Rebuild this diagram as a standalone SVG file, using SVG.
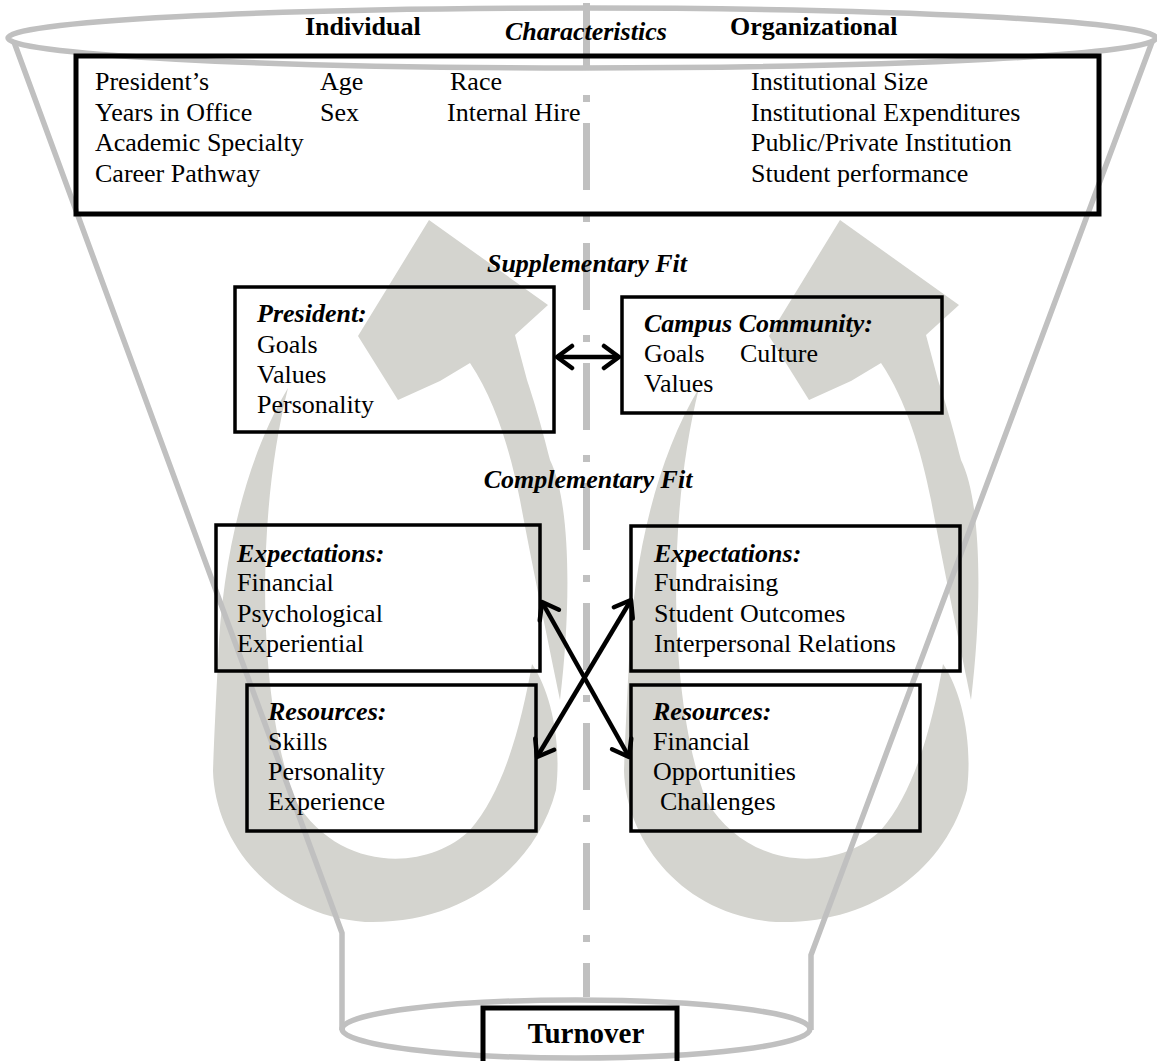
<svg xmlns="http://www.w3.org/2000/svg" width="1157" height="1061" viewBox="0 0 1157 1061">
<style>
text{font-family:"Liberation Serif","Times New Roman",serif;font-size:26px;fill:#000}
.b{font-weight:bold}
.bi{font-weight:bold;font-style:italic}
.box{fill:none;stroke:#000;stroke-width:3.5}
.heavy{stroke-width:5}
.funnel{fill:none;stroke:#c0c0c0;stroke-width:5.5}
.swirl{fill:#d4d4cf}
.conn{stroke:#000;stroke-width:4.5;fill:none}
</style>
<defs>
<marker id="ah" viewBox="-20 -14 24 28" refX="0" refY="0" markerWidth="24" markerHeight="28" markerUnits="userSpaceOnUse" orient="auto-start-reverse">
<path d="M-15,-11 L0,0 L-15,11" fill="none" stroke="#000" stroke-width="4.5" stroke-linecap="round" stroke-linejoin="round"/>
</marker>
<g id="cycle">
<path class="swirl" d="M560,700 C572,600 570,500 550,460 C540,420 532,395 527,380 L515,335 L548,305 L429,220 L358,336 L398,400 L440,381 L470,363 C495,400 510,450 520,500 C535,580 550,650 560,700 Z"/>
<path class="swirl" d="M288,388 C245,460 222,560 218,660 C216,700 214,740 213,771 C215,840 270,915 365,922 C460,925 535,870 556,790 C562,740 550,690 532,664 C522,720 505,790 470,830 C430,870 340,875 295,800 C258,700 255,520 288,388 Z"/>
</g>
</defs>
<g id="swirls">
<use href="#cycle"/>
<use href="#cycle" transform="translate(411,0)"/>
</g>
<g id="funnel">
<ellipse class="funnel" cx="582" cy="38" rx="574" ry="30"/>
<path class="funnel" d="M14,42 L342,933 L342,1030"/>
<path class="funnel" d="M1152,42 L811,955 L811,1030"/>
<ellipse class="funnel" cx="576" cy="1029" rx="234" ry="29"/>
<line x1="586.5" y1="3" x2="586.5" y2="997" stroke="#c0c0c0" stroke-width="7" stroke-dasharray="67 25 7 21"/>
</g>
<g id="characteristics">
<rect class="box heavy" x="76" y="56" width="1023" height="158"/>
<text class="b" x="305" y="35">Individual</text>
<text class="bi" x="505" y="40">Characteristics</text>
<text class="b" x="730" y="35">Organizational</text>
<text x="95" y="90">President’s</text>
<text x="95" y="120.5">Years in Office</text>
<text x="95" y="151">Academic Specialty</text>
<text x="95" y="181.5">Career Pathway</text>
<text x="320" y="90">Age</text>
<text x="320" y="120.5">Sex</text>
<text x="450" y="90">Race</text>
<text x="447" y="120.5">Internal Hire</text>
<text x="751" y="90">Institutional Size</text>
<text x="751" y="120.5">Institutional Expenditures</text>
<text x="751" y="151">Public/Private Institution</text>
<text x="751" y="181.5">Student performance</text>
</g>
<g id="labels">
<text class="bi" x="587" y="272" text-anchor="middle">Supplementary Fit</text>
<text class="bi" x="588" y="488" text-anchor="middle">Complementary Fit</text>
</g>
<g id="president">
<rect class="box" x="235" y="287" width="319" height="145"/>
<text class="bi" x="257" y="322">President:</text>
<text x="257" y="353">Goals</text>
<text x="257" y="383">Values</text>
<text x="257" y="413">Personality</text>
</g>
<g id="campus">
<rect class="box" x="622" y="297" width="320" height="116"/>
<text class="bi" x="644" y="332">Campus Community:</text>
<text x="644" y="362">Goals</text>
<text x="740" y="362">Culture</text>
<text x="644" y="392">Values</text>
</g>
<g id="exp-left">
<rect class="box" x="216" y="525" width="324" height="146"/>
<text class="bi" x="237" y="562">Expectations:</text>
<text x="237" y="591">Financial</text>
<text x="237" y="622">Psychological</text>
<text x="237" y="652">Experiential</text>
</g>
<g id="exp-right">
<rect class="box" x="631" y="526" width="329" height="145"/>
<text class="bi" x="654" y="562">Expectations:</text>
<text x="654" y="591">Fundraising</text>
<text x="654" y="622">Student Outcomes</text>
<text x="654" y="652">Interpersonal Relations</text>
</g>
<g id="res-left">
<rect class="box" x="247" y="685" width="289" height="146"/>
<text class="bi" x="268" y="720">Resources:</text>
<text x="268" y="750">Skills</text>
<text x="268" y="780">Personality</text>
<text x="268" y="810">Experience</text>
</g>
<g id="res-right">
<rect class="box" x="631" y="685" width="289" height="146"/>
<text class="bi" x="653" y="720">Resources:</text>
<text x="653" y="750">Financial</text>
<text x="653" y="780">Opportunities</text>
<text x="660" y="810">Challenges</text>
</g>
<g id="turnover">
<rect class="box heavy" x="483" y="1008" width="194" height="60"/>
<text class="b" x="586" y="1043" text-anchor="middle" style="font-size:29px">Turnover</text>
</g>
<g id="connectors">
<line class="conn" x1="557" y1="357" x2="619" y2="357" marker-start="url(#ah)" marker-end="url(#ah)"/>
<line class="conn" x1="542" y1="602" x2="629" y2="757" marker-start="url(#ah)" marker-end="url(#ah)"/>
<line class="conn" x1="631" y1="600" x2="537" y2="757" marker-start="url(#ah)" marker-end="url(#ah)"/>
</g>
</svg>
